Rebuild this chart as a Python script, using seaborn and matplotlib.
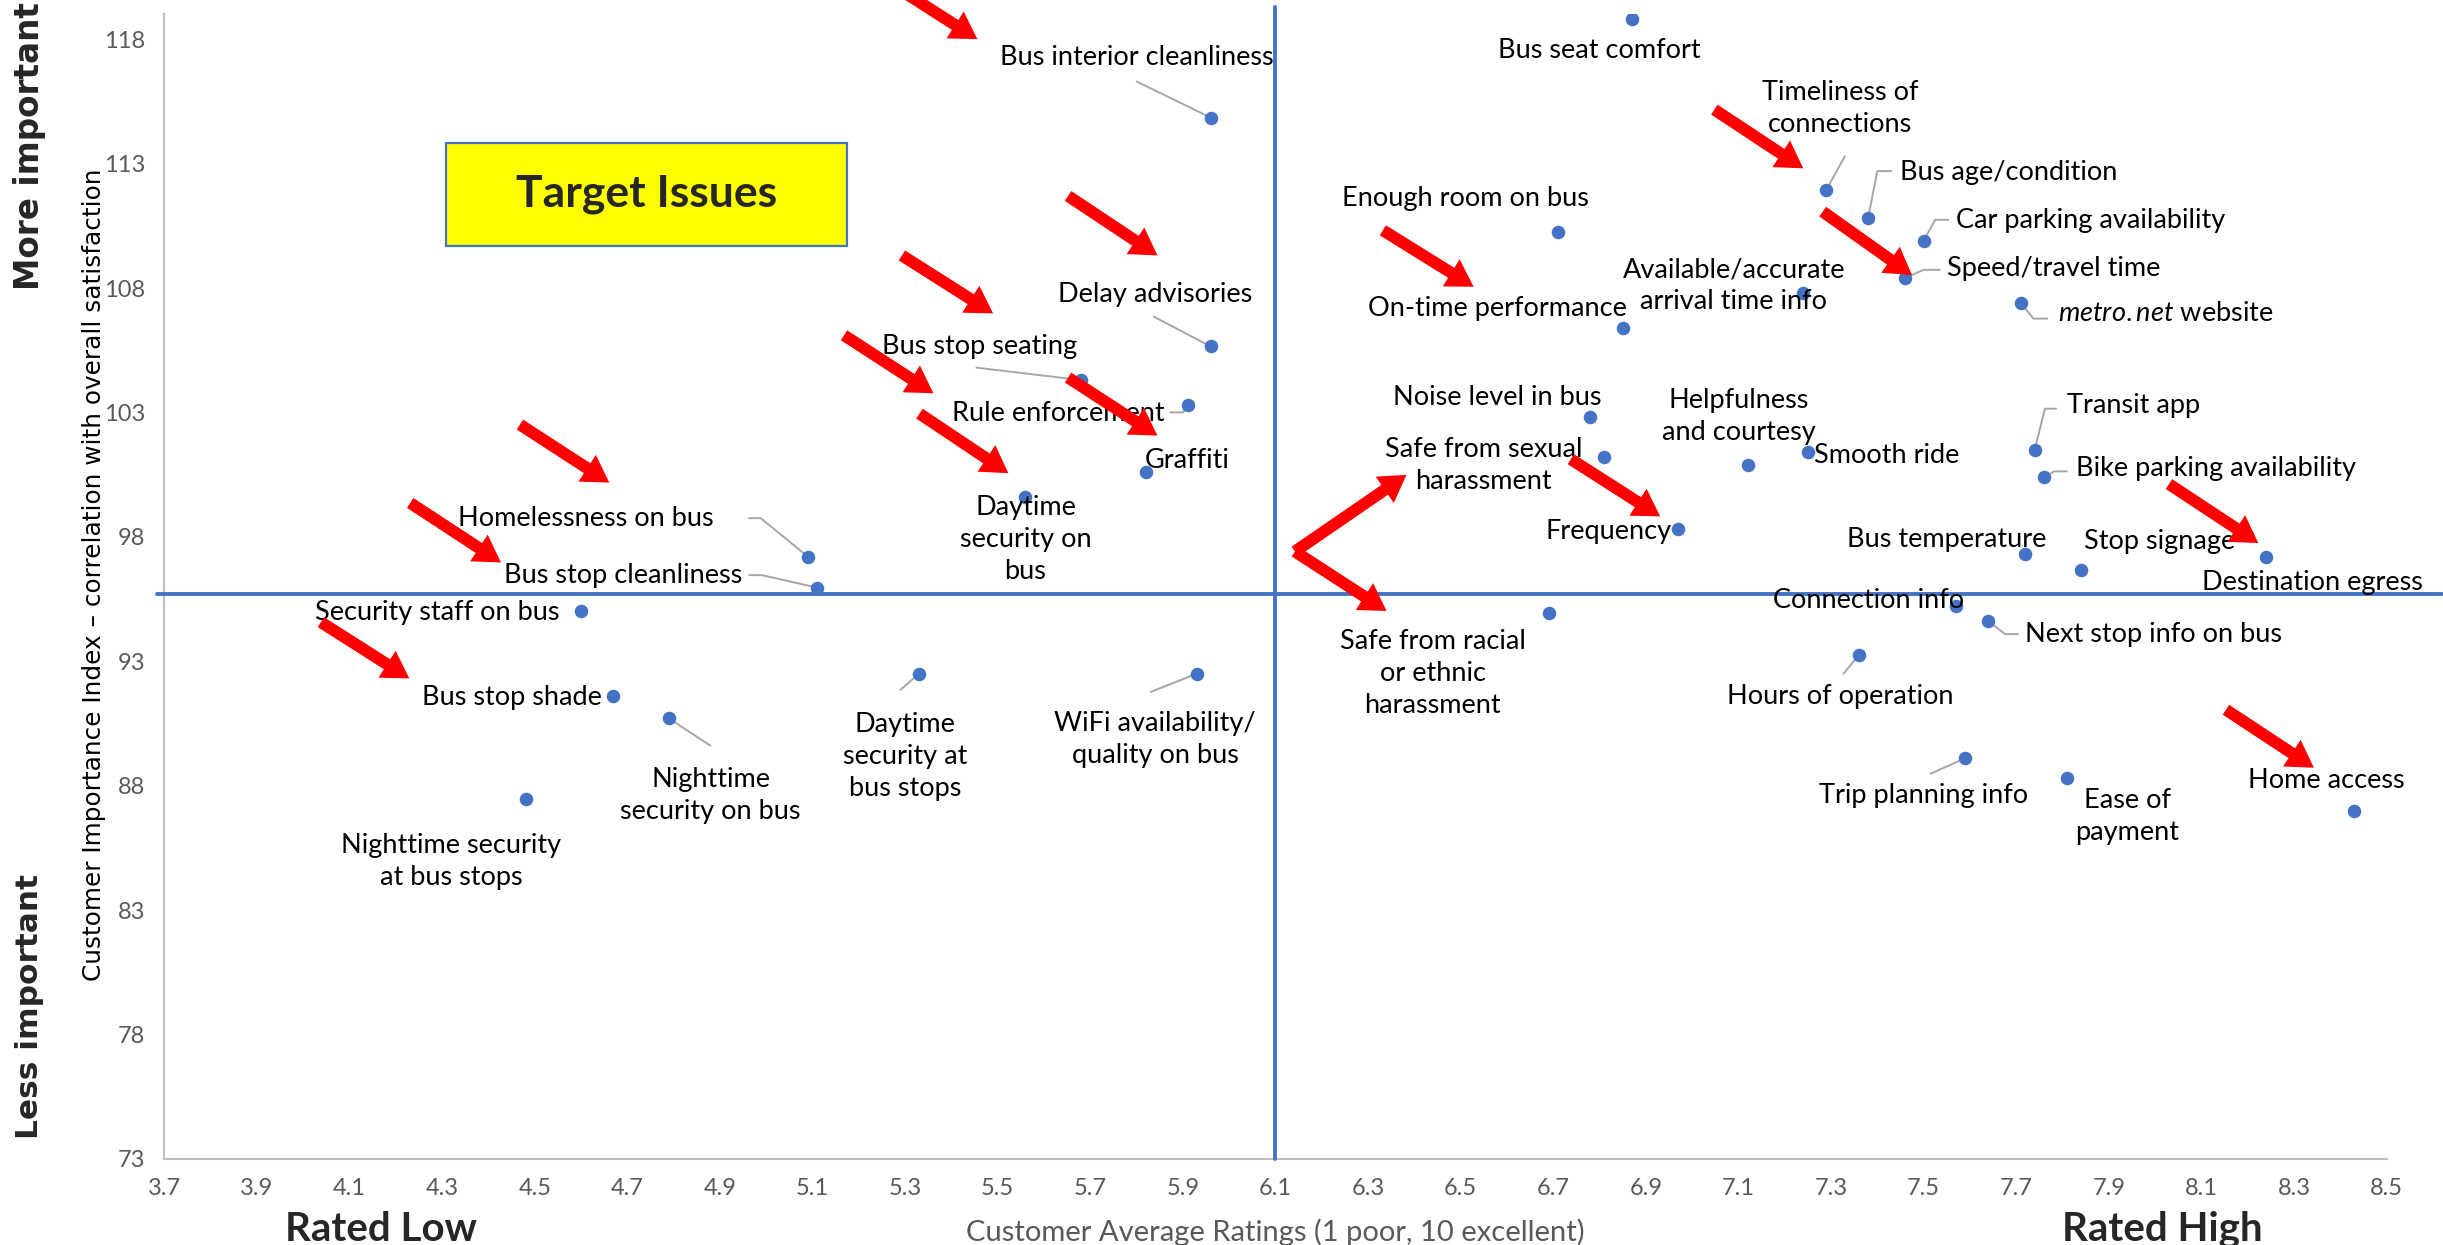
import numpy as np
import pandas as pd
import matplotlib
matplotlib.use('Agg')
import matplotlib.pyplot as plt
import matplotlib.transforms as mtransforms
from matplotlib.patches import Rectangle
import seaborn as sns

# Estilo
sns.set_style("white")
plt.rcParams['font.family'] = ['Lato', 'DejaVu Sans']
plt.rcParams['mathtext.fontset'] = 'custom'
plt.rcParams['mathtext.it'] = 'Lato:italic'
plt.rcParams['mathtext.rm'] = 'Lato'

# ---------------- dados ----------------
labels = [
    "Bus seat comfort", "Bus interior cleanliness", "Timeliness of\nconnections",
    "Bus age/condition", "Car parking availability", "Speed/travel time",
    "$\\it{metro.net}$ website", "Available/accurate\narrival time info",
    "Enough room on bus", "On-time performance", "Delay advisories",
    "Bus stop seating", "Rule enforcement", "Graffiti", "Daytime\nsecurity on\nbus",
    "Homelessness on bus", "Bus stop cleanliness", "Security staff on bus",
    "Bus stop shade", "Nighttime\nsecurity on bus", "Nighttime security\nat bus stops",
    "Daytime\nsecurity at\nbus stops", "WiFi availability/\nquality on bus",
    "Noise level in bus", "Safe from sexual\nharassment", "Helpfulness\nand courtesy",
    "Smooth ride", "Frequency", "Safe from racial\nor ethnic\nharassment",
    "Transit app", "Bike parking availability", "Bus temperature", "Stop signage",
    "Destination egress", "Connection info", "Next stop info on bus",
    "Hours of operation", "Trip planning info", "Ease of\npayment", "Home access",
]
ratings = [
    6.87, 5.96, 7.29, 7.38, 7.50, 7.46, 7.71, 7.24, 6.71, 6.85, 5.96, 5.68, 5.91,
    5.82, 5.56, 5.09, 5.11, 4.60, 4.67, 4.79, 4.48, 5.33, 5.93, 6.78, 6.81, 7.12,
    7.25, 6.97, 6.69, 7.74, 7.76, 7.72, 7.84, 8.24, 7.57, 7.64, 7.36, 7.59, 7.81, 8.43,
]
importance = [
    118.8, 114.85, 111.95, 110.8, 109.9, 108.4, 107.4, 107.8, 110.25, 106.4, 105.65,
    104.3, 103.3, 100.6, 99.6, 97.2, 95.96, 95.0, 91.6, 90.7, 87.45, 92.5, 92.5,
    102.8, 101.2, 100.9, 101.4, 98.3, 94.95, 101.5, 100.4, 97.3, 96.65, 97.2, 95.2,
    94.6, 93.25, 89.1, 88.3, 87.0,
]
mid_rating = 6.1
mid_importance = 95.7

x_ticks = [3.7, 3.9, 4.1, 4.3, 4.5, 4.7, 4.9, 5.1, 5.3, 5.5, 5.7, 5.9, 6.1,
           6.3, 6.5, 6.7, 6.9, 7.1, 7.3, 7.5, 7.7, 7.9, 8.1, 8.3, 8.5]
y_ticks = [73, 78, 83, 88, 93, 98, 103, 108, 113, 118]

df = pd.DataFrame({'label': labels, 'rating': ratings, 'importance': importance})

# posicao dos rotulos (x, y, alinhamento)
label_pos = [
    (6.80, 117.56, 'center'), (5.80, 117.25, 'center'), (7.32, 115.2, 'center'),
    (7.45, 112.65, 'left'), (7.57, 110.7, 'left'), (7.55, 108.8, 'left'),
    (7.79, 106.98, 'left'), (7.09, 108.1, 'center'), (6.51, 111.6, 'center'),
    (6.58, 107.17, 'center'), (5.84, 107.74, 'center'), (5.46, 105.66, 'center'),
    (5.63, 102.95, 'center'), (5.91, 101.06, 'center'), (5.56, 97.9, 'center'),
    (4.61, 98.73, 'center'), (4.69, 96.46, 'center'), (4.29, 94.95, 'center'),
    (4.45, 91.55, 'center'), (4.88, 87.6, 'center'), (4.32, 84.94, 'center'),
    (5.30, 89.16, 'center'), (5.84, 89.85, 'center'), (6.58, 103.58, 'center'),
    (6.55, 100.87, 'center'), (7.10, 102.82, 'center'), (7.42, 101.25, 'center'),
    (6.82, 98.23, 'center'), (6.44, 92.5, 'center'), (7.81, 103.26, 'left'),
    (7.83, 100.75, 'left'), (7.55, 97.9, 'center'), (8.01, 97.8, 'center'),
    (8.34, 96.15, 'center'), (7.38, 95.45, 'center'), (7.72, 94.07, 'left'),
    (7.32, 91.6, 'center'), (7.50, 87.6, 'center'), (7.94, 86.77, 'center'),
    (8.37, 88.2, 'center'),
]

# linhas de chamada (do rotulo ate o ponto)
leaders = {
    1: [(5.80, 116.3)],
    2: [(7.33, 113.3)],
    3: [(7.43, 112.7), (7.40, 112.7)],
    4: [(7.553, 110.74), (7.525, 110.74)],
    5: [(7.535, 108.73), (7.50, 108.73)],
    6: [(7.767, 106.77), (7.737, 106.77)],
    10: [(5.837, 106.85)],
    11: [(5.454, 104.8)],
    12: [(5.873, 103.0), (5.90, 103.0)],
    15: [(4.963, 98.75), (4.988, 98.75)],
    16: [(4.963, 96.46), (4.99, 96.46)],
    19: [(4.879, 89.61)],
    21: [(5.29, 91.85)],
    22: [(5.831, 91.77)],
    29: [(7.786, 103.15), (7.762, 103.15)],
    30: [(7.809, 100.63), (7.782, 100.63)],
    35: [(7.704, 94.09), (7.676, 94.09)],
    36: [(7.327, 92.5)],
    37: [(7.515, 88.48)],
}

# setas vermelhas (cauda, ponta)
arrows = [
    ((5.263, 120.3), (5.456, 118.0)),
    ((5.652, 111.70), (5.845, 109.31)),
    ((5.293, 109.31), (5.490, 106.98)),
    ((5.168, 106.10), (5.361, 103.77)),
    ((5.652, 104.40), (5.845, 102.07)),
    ((5.331, 102.95), (5.523, 100.56)),
    ((4.468, 102.51), (4.661, 100.18)),
    ((4.231, 99.36), (4.427, 96.97)),
    ((4.038, 94.57), (4.229, 92.31)),
    ((6.332, 110.32), (6.528, 108.05)),
    ((6.142, 97.41), (6.383, 100.49)),
    ((6.142, 97.41), (6.340, 95.02)),
    ((6.738, 101.12), (6.931, 98.82)),
    ((7.048, 115.17), (7.240, 112.81)),
    ((7.282, 111.07), (7.475, 108.52)),
    ((8.030, 100.12), (8.223, 97.75)),
    ((8.153, 91.05), (8.343, 88.72)),
]

blue = '#4472C4'

fig = plt.figure(figsize=(24.43, 12.45), dpi=100)
ax = fig.add_axes([0.0673, 0.0692, 0.9096, 0.9193])

sns.scatterplot(data=df, x='rating', y='importance', color=blue, s=95,
                linewidth=0, ax=ax, zorder=5)

ax.set_xlim(3.7, 8.5)
ax.set_ylim(73, 119)
ax.set_xticks(x_ticks)
ax.set_xticklabels([f"{v:.1f}" for v in x_ticks])
ax.set_yticks(y_ticks)
ax.tick_params(axis='both', length=0, labelsize=17, labelcolor='#595959')
ax.tick_params(axis='x', pad=14)
ax.tick_params(axis='y', pad=14)

for s in ['top', 'right']:
    ax.spines[s].set_visible(False)
for s in ['left', 'bottom']:
    ax.spines[s].set_color('#BFBFBF')
    ax.spines[s].set_linewidth(1.5)

# quadrantes
trans_h = mtransforms.blended_transform_factory(ax.transAxes, ax.transData)
trans_v = mtransforms.blended_transform_factory(ax.transData, ax.transAxes)
ax.plot([-0.0035, 1.025], [mid_importance, mid_importance], color=blue, lw=2.8,
        transform=trans_h, clip_on=False, zorder=3)
ax.plot([mid_rating, mid_rating], [0, 1.006], color=blue, lw=2.8,
        transform=trans_v, clip_on=False, zorder=3)

# chamadas
for i, pts in leaders.items():
    xs = [p[0] for p in pts] + [ratings[i]]
    ys = [p[1] for p in pts] + [importance[i]]
    ax.plot(xs, ys, color='#A6A6A6', lw=1.4, zorder=4)

# rotulos
for lab, (lx, ly, ha) in zip(labels, label_pos):
    ax.text(lx, ly, lab, ha=ha, va='center', fontsize=19.5, color='black',
            linespacing=1.35, zorder=6)

# caixa "Target Issues"
ax.add_patch(Rectangle((4.309, 109.69), 0.866, 4.15, facecolor='#FFFF00',
                       edgecolor=blue, lw=1.6, zorder=6))
ax.text(4.742, 111.77, "Target Issues", ha='center', va='center',
        fontsize=32, fontweight='bold', zorder=7)

# setas
for tail, head in arrows:
    ax.annotate('', xy=head, xytext=tail, annotation_clip=False,
                arrowprops=dict(facecolor='#FF0000', edgecolor='none', width=8.5,
                                headwidth=23, headlength=19, shrink=0),
                zorder=8)

# titulos dos eixos
ax.set_xlabel("Customer Average Ratings (1 poor, 10 excellent)", fontsize=21,
              color='#595959')
ax.xaxis.label.set_va('center')
ax.xaxis.set_label_coords(0.5, -0.0643)
ax.set_ylabel("Customer Importance Index \u2013 correlation with overall satisfaction",
              fontsize=17.8, color='black', family='DejaVu Sans')
ax.yaxis.label.set_va('center')
ax.yaxis.set_label_coords(-0.0317, 0.51)

fig.text(0.0122, 0.883, "More important", rotation=90, ha='center', va='center',
         fontsize=23.5, fontweight='bold', family='DejaVu Sans')
fig.text(0.0122, 0.1912, "Less important", rotation=90, ha='center', va='center',
         fontsize=22.5, fontweight='bold', family='DejaVu Sans')
fig.text(0.1558, 0.0126, "Rated Low", ha='center', va='center', fontsize=29,
         fontweight='bold')
fig.text(0.8853, 0.0126, "Rated High", ha='center', va='center', fontsize=29,
         fontweight='bold')

fig.savefig('out.png', dpi=100)
